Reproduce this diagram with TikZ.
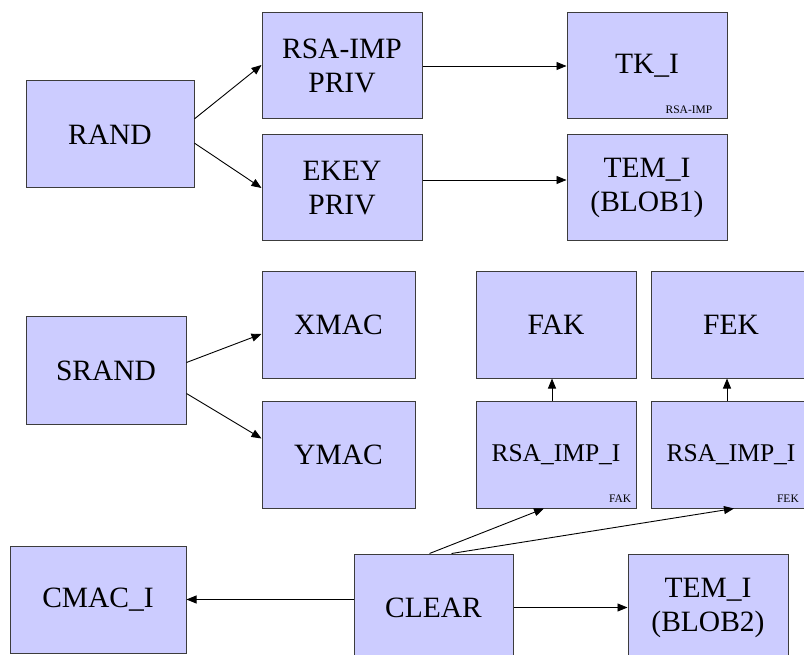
\documentclass[tikz,border=0pt]{standalone}
\usepackage{fontspec}
\setmainfont{Liberation Serif}
\usetikzlibrary{arrows.meta,calc}

\definecolor{boxfill}{RGB}{204,204,255}
\definecolor{boxline}{RGB}{60,60,60}

\tikzset{
  box/.style={draw=boxline, fill=boxfill, line width=1pt, inner sep=0pt,
    minimum width=160pt, minimum height=106pt, align=center,
    font=\fontsize{29.5}{34}\selectfont},
  smallbox/.style={box, font=\fontsize{25.5}{30}\selectfont},
  tag/.style={anchor=base east, inner sep=0pt, font=\fontsize{11.5}{12}\selectfont},
  link/.style={draw=black, line width=0.9pt, -{Triangle[length=10pt,width=8pt]}}
}

\begin{document}
\begin{tikzpicture}[x=1pt,y=-1pt]
\useasboundingbox (0,0) rectangle (804,655);
\clip (0,0) rectangle (804,655);

% key generation from RAND
\node[box, minimum width=168pt, minimum height=107pt] (rand) at (110,134.5) {RAND};
\node[box] (rsapriv) at (342,66) {RSA-IMP\\PRIV};
\node[box] (ekeypriv) at (342,188) {EKEY\\PRIV};
\node[box] (tki) at (647,66) {TK\_I};
\node[box] (temone) at (647,188) {TEM\_I\\(BLOB1)};
\node[tag] at ($(tki.south east)+(-15,-6)$) {RSA-IMP};

% MAC keys from SRAND
\node[box, minimum height=107pt] (srand) at (106,370.5) {SRAND};
\node[box, minimum width=153pt] (xmac) at (338.5,325) {XMAC};
\node[box, minimum width=153pt, minimum height=107pt] (ymac) at (338.5,454.5) {YMAC};

% imported keys
\node[box] (fak) at (556,325) {FAK};
\node[box] (fek) at (731,325) {FEK};
\node[smallbox, minimum height=107pt] (rifak) at (556,454.5) {RSA\_IMP\_I};
\node[smallbox, minimum height=107pt] (rifek) at (731,454.5) {RSA\_IMP\_I};
\node[tag] at ($(rifak.south east)+(-5,-6.5)$) {FAK};
\node[tag] at ($(rifek.south east)+(-12.5,-6.5)$) {FEK};

% CLEAR and its outputs
\node[box, minimum width=176pt, minimum height=107pt] (cmac) at (98,599.5) {CMAC\_I};
\node[box, minimum width=159pt, minimum height=107pt] (clear) at (433.5,607.5) {CLEAR};
\node[box, minimum height=107pt] (temtwo) at (708,607.5) {TEM\_I\\(BLOB2)};

% connectors
\draw[link] ($(rand.north east)!0.355!(rand.south east)$) -- ($(rsapriv.west)+(0,-1)$);
\draw[link] ($(rand.north east)!0.58!(rand.south east)$) -- (ekeypriv.west);
\draw[link] (rsapriv.east) -- (tki.west);
\draw[link] ($(ekeypriv.east)+(0,-8)$) -- ($(temone.west)+(0,-8)$);

\draw[link] ($(srand.east)+(0,-8)$) -- ($(xmac.west)+(0,9)$);
\draw[link] ($(srand.east)+(0,23)$) -- ($(ymac.west)+(0,-16)$);

\draw[link] ($(rifak.north)+(-4,0)$) -- ($(fak.south)+(-4,0)$);
\draw[link] ($(rifek.north)+(-4,0)$) -- ($(fek.south)+(-4,0)$);

\draw[link] ($(clear.north)+(-4,0)$) -- ($(rifak.south)+(-12,0)$);
\draw[link] ($(clear.north)+(18,0)$) -- ($(rifek.south)+(3,0)$);
\draw[link] ($(clear.west)+(0,-8)$) -- (cmac.east);
\draw[link] (clear.east) -- (temtwo.west);
\end{tikzpicture}
\end{document}
